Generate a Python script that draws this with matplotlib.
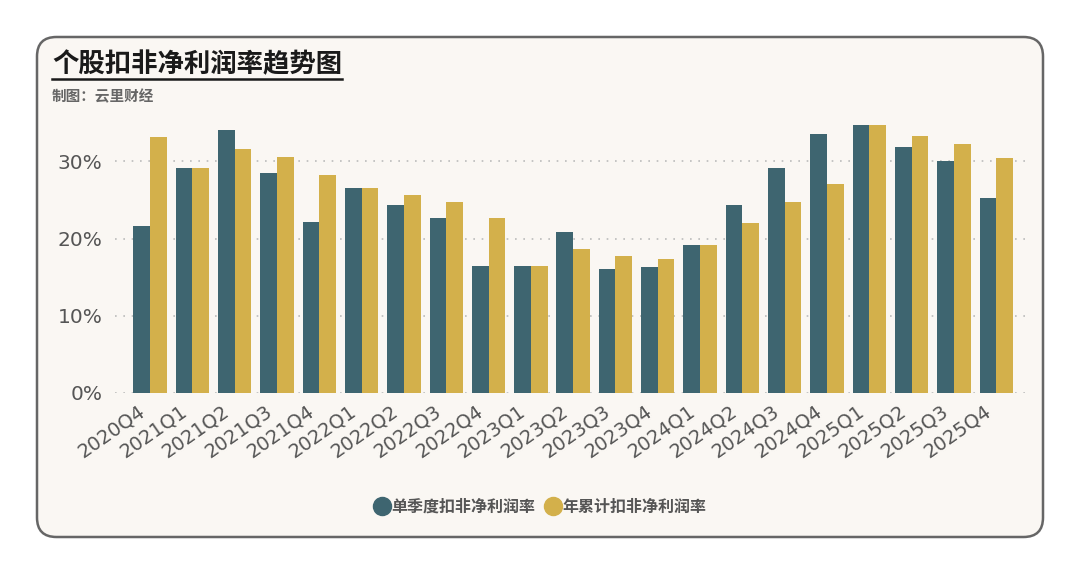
import numpy as np
import matplotlib
matplotlib.use("Agg")
from matplotlib import pyplot as plt
from matplotlib.patches import FancyBboxPatch
from matplotlib.lines import Line2D

plt.rcParams['font.family'] = ['Noto Sans CJK SC', 'DejaVu Sans']

quarters = ["2020Q4", "2021Q1", "2021Q2", "2021Q3", "2021Q4", "2022Q1", "2022Q2",
            "2022Q3", "2022Q4", "2023Q1", "2023Q2", "2023Q3", "2023Q4", "2024Q1",
            "2024Q2", "2024Q3", "2024Q4", "2025Q1", "2025Q2", "2025Q3", "2025Q4"]
# 单季度扣非净利润率 (%)
single_q = [21.6, 29.2, 34.0, 28.5, 22.2, 26.6, 24.4, 22.7, 16.5, 16.4, 20.9,
            16.1, 16.3, 19.2, 24.4, 29.1, 33.6, 34.7, 31.9, 30.0, 25.2]
# 年累计扣非净利润率 (%)
ytd = [33.2, 29.2, 31.6, 30.6, 28.2, 26.6, 25.6, 24.7, 22.7, 16.4, 18.6,
       17.8, 17.4, 19.2, 22.0, 24.7, 27.1, 34.7, 33.3, 32.2, 30.4]
yticks = [0, 10, 20, 30]

TEAL = "#3e6570"
GOLD = "#d3b04b"
BG = "#faf7f3"

fig = plt.figure(figsize=(10.8, 5.74), dpi=100)
fig.patch.set_facecolor("white")

# card background
card = FancyBboxPatch((37 / 1080, 37 / 574), (1043 - 37) / 1080, (537 - 37) / 574,
                      boxstyle="round,pad=0,rounding_size=0.018",
                      transform=fig.transFigure, facecolor=BG, edgecolor="#666666",
                      linewidth=1.8, mutation_aspect=1080 / 574, zorder=-10)
fig.patches.append(card)

ax = fig.add_axes([115 / 1080, 181 / 574, (1025 - 115) / 1080, 278 / 574])
ax.set_facecolor("none")

x = np.arange(len(quarters))
w = 0.395
ax.bar(x - w / 2, single_q, width=w, color=TEAL, zorder=3)
ax.bar(x + w / 2, ytd, width=w, color=GOLD, zorder=3)

ax.set_xlim(-0.83, len(quarters) - 1 + 0.68)
ax.set_ylim(0, 36)
ax.set_yticks(yticks)
ax.set_yticklabels(["%d%%" % v for v in yticks], fontsize=14.5, color="#555555",
                   family="DejaVu Sans")
ax.yaxis.grid(True, linestyle=(0, (1, 4)), color="#bbbbbb", linewidth=1.2, zorder=0)
ax.set_xticks(x - 0.3)
ax.set_xticklabels(quarters, rotation=35, ha="right", rotation_mode="anchor",
                   fontsize=14, color="#555555", family="DejaVu Sans")
ax.tick_params(length=0)
ax.tick_params(axis="y", pad=9)
ax.tick_params(axis="x", pad=6)
for s in ax.spines.values():
    s.set_visible(False)

title = fig.text(52 / 1080, 1 - 65 / 574, "个股扣非净利润率趋势图", fontsize=19,
                 fontweight="heavy", color="#1a1a1a", va="center", ha="left")
fig.text(52 / 1080, 1 - 96 / 574, "制图：云里财经", fontsize=10.5, fontweight="bold",
         color="#666666", va="center", ha="left")

fig.canvas.draw()
bb = title.get_window_extent().transformed(fig.transFigure.inverted())
fig.add_artist(Line2D([bb.x0, bb.x1], [1 - 79 / 574, 1 - 79 / 574],
                      transform=fig.transFigure, color="#1a1a1a", linewidth=1.8))

handles = [Line2D([], [], marker="o", linestyle="none", markersize=13, color=TEAL),
           Line2D([], [], marker="o", linestyle="none", markersize=13, color=GOLD)]
leg = fig.legend(handles, ["单季度扣非净利润率", "年累计扣非净利润率"], loc="center",
                 bbox_to_anchor=(540 / 1080, 1 - 507 / 574), ncol=2, frameon=False,
                 handletextpad=0.1, columnspacing=0.6, handlelength=1.0,
                 prop={"size": 11.5, "weight": "bold",
                       "family": ["Noto Sans CJK SC", "DejaVu Sans"]})
for t in leg.get_texts():
    t.set_color("#555555")

fig.savefig("out.png", dpi=100, facecolor=fig.get_facecolor())
